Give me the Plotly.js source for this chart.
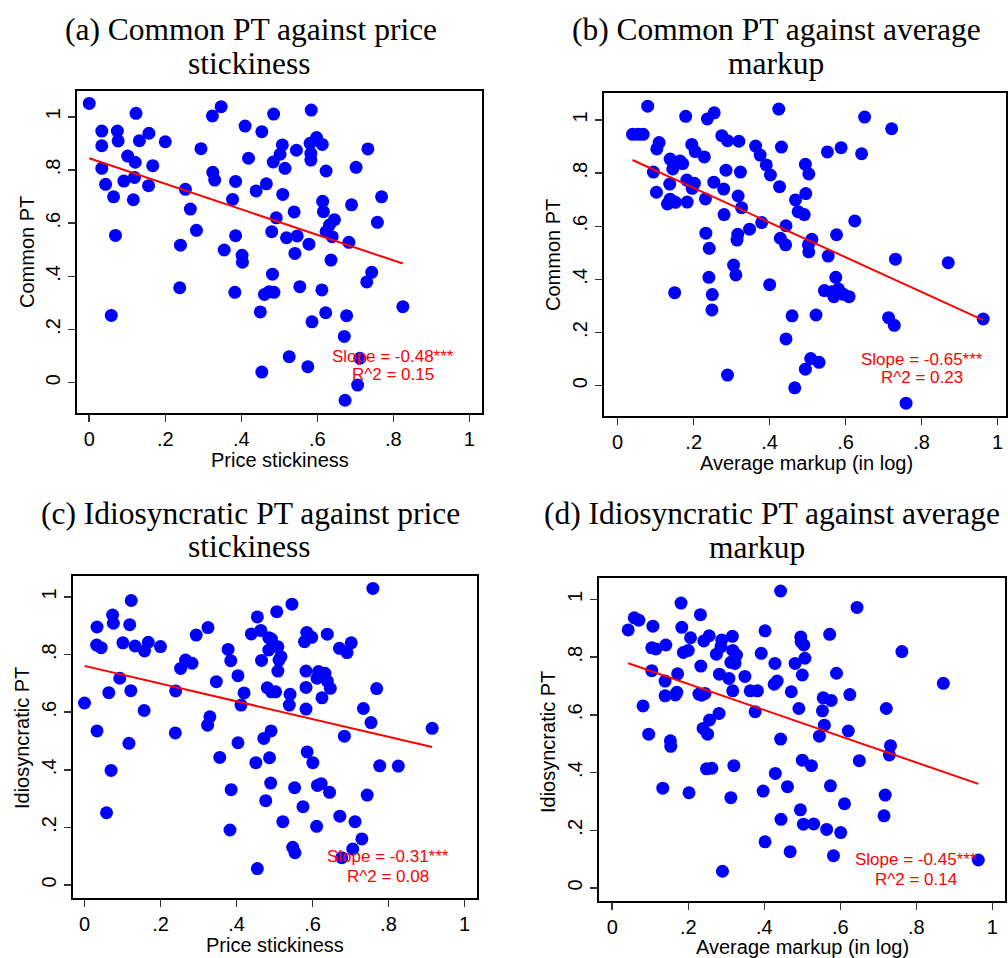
<!DOCTYPE html>
<html>
<head>
<meta charset="utf-8">
<script src="https://cdn.plot.ly/plotly-3.0.1.min.js"></script>
<style>html,body{margin:0;padding:0;background:#fff;}#chart{width:1008px;height:958px;}</style>
</head>
<body>
<div id="chart"></div>
<script>
// ---------- Data ----------
const tickVals = [0, 0.2, 0.4, 0.6, 0.8, 1];
const tickText = ["0", ".2", ".4", ".6", ".8", "1"];

// (a) Common PT vs price stickiness
const aX = [0.00,0.123,0.033,0.074,0.157,0.033,0.076,0.132,0.20,0.101,0.121,0.167,0.033,0.043,0.091,0.119,0.156,0.064,0.116,0.294,0.324,0.347,0.41,0.454,0.485,0.419,0.484,0.325,0.33,0.385,0.466,0.439,0.253,0.377,0.266,0.492,0.48,0.069,0.282,0.385,0.240,0.355,0.402,0.403,0.482,0.238,0.383,0.461,0.473,0.486,0.058,0.45,0.454,
  0.584,0.508,0.545,0.581,0.598,0.613,0.583,0.583,0.502,0.515,0.623,0.702,0.733,0.509,0.769,0.614,0.69,0.616,0.539,0.645,0.632,0.758,0.623,0.639,0.519,0.547,0.578,0.683,0.541,0.636,0.743,0.73,0.554,0.612,0.825,0.622,0.586,0.677,0.671,0.526,0.575,0.712,0.706,0.673];
const aY = [1.05,1.013,0.946,0.946,0.938,0.891,0.909,0.910,0.906,0.852,0.829,0.816,0.806,0.746,0.758,0.772,0.741,0.699,0.688,0.880,1.003,1.038,0.965,0.944,1.010,0.844,0.830,0.791,0.762,0.757,0.748,0.721,0.727,0.689,0.653,0.620,0.568,0.554,0.573,0.553,0.517,0.499,0.479,0.453,0.408,0.357,0.340,0.332,0.342,0.340,0.253,0.266,0.040,
  1.025,0.894,0.874,0.9,0.922,0.896,0.862,0.837,0.859,0.806,0.796,0.810,0.879,0.708,0.699,0.682,0.669,0.643,0.642,0.613,0.593,0.603,0.568,0.549,0.545,0.552,0.521,0.528,0.486,0.461,0.415,0.379,0.361,0.349,0.286,0.263,0.229,0.252,0.174,0.098,0.06,0.092,-0.009,-0.066];

// (b) Common PT vs average markup
const bX = [0.079,0.039,0.054,0.067,0.109,0.103,0.179,0.236,0.254,0.195,0.204,0.228,0.138,0.164,0.171,0.145,0.094,0.274,0.289,0.319,0.363,0.375,0.391,0.402,0.424,0.431,0.285,0.323,0.137,0.182,0.202,0.196,0.253,0.279,0.102,0.231,0.317,0.426,0.138,0.152,0.131,0.183,0.326,0.28,0.379,0.443,0.468,0.475,0.347,0.232,0.316,0.314,0.241,0.428,0.442,0.305,0.311,0.240,0.4,0.15,0.249,0.248,0.459,0.443,0.289,0.466,
  0.65,0.721,0.552,0.588,0.642,0.494,0.503,0.495,0.491,0.624,0.576,0.511,0.502,0.503,0.554,0.731,0.87,0.574,0.544,0.563,0.581,0.569,0.594,0.609,0.522,0.713,0.728,0.962,0.508,0.53,0.494,0.759];
const bY = [1.052,0.946,0.946,0.946,0.915,0.891,1.014,1.004,1.027,0.908,0.881,0.861,0.853,0.846,0.836,0.816,0.804,0.941,0.922,0.92,0.902,0.868,0.831,0.793,1.041,0.898,0.811,0.804,0.759,0.774,0.762,0.743,0.766,0.740,0.728,0.703,0.714,0.749,0.702,0.690,0.684,0.691,0.670,0.644,0.614,0.602,0.699,0.655,0.589,0.574,0.570,0.548,0.517,0.555,0.53,0.454,0.417,0.408,0.38,0.35,0.343,0.285,0.263,0.176,0.04,-0.008,
  1.011,0.967,0.88,0.896,0.873,0.833,0.797,0.723,0.644,0.620,0.568,0.551,0.530,0.504,0.488,0.476,0.463,0.408,0.358,0.354,0.364,0.335,0.344,0.335,0.266,0.256,0.227,0.251,0.102,0.088,0.062,-0.066];

// (c) Idiosyncratic PT vs price stickiness
const cX = [0.123,0.074,0.076,0.033,0.119,0.032,0.044,0.101,0.133,0.158,0.168,0.2,0.294,0.325,0.253,0.266,0.283,0.093,0.064,0.122,0.24,0.0,0.157,0.347,0.378,0.385,0.404,0.420,0.412,0.33,0.324,0.033,0.239,0.117,0.404,0.356,0.07,0.058,0.386,0.383,0.455,0.455,0.506,0.439,0.464,0.485,0.492,0.485,0.466,0.509,0.512,0.509,0.481,0.503,0.492,0.491,0.472,0.487,0.451,0.49,0.477,0.522,
  0.759,0.546,0.585,0.598,0.579,0.639,0.671,0.691,0.702,0.517,0.583,0.583,0.616,0.633,0.612,0.639,0.647,0.625,0.541,0.539,0.583,0.769,0.734,0.754,0.915,0.684,0.586,0.601,0.777,0.826,0.553,0.613,0.623,0.645,0.744,0.575,0.611,0.672,0.712,0.73,0.548,0.554,0.706,0.677];
const cY = [0.988,0.9375,0.909,0.896,0.904,0.833,0.824,0.841,0.830,0.8125,0.843,0.828,0.868,0.894,0.752,0.781,0.770,0.718,0.668,0.675,0.674,0.632,0.606,0.706,0.818,0.779,0.727,0.667,0.625,0.584,0.555,0.535,0.528,0.492,0.494,0.443,0.398,0.251,0.331,0.191,0.057,0.931,0.949,0.872,0.884,0.859,0.854,0.816,0.780,0.827,0.781,0.743,0.685,0.671,0.671,0.535,0.509,0.442,0.425,0.354,0.293,0.22,
  1.03,0.975,0.877,0.860,0.845,0.871,0.822,0.807,0.841,0.793,0.743,0.686,0.741,0.735,0.718,0.708,0.683,0.650,0.662,0.625,0.611,0.682,0.613,0.564,0.544,0.517,0.462,0.425,0.414,0.413,0.338,0.346,0.352,0.322,0.3125,0.272,0.204,0.239,0.22,0.16,0.131,0.112,0.125,0.095];

// (d) Idiosyncratic PT vs average markup
const dX = [0.443,0.181,0.058,0.07,0.042,0.107,0.232,0.183,0.206,0.104,0.115,0.141,0.187,0.2,0.241,0.255,0.288,0.286,0.274,0.316,0.317,0.327,0.312,0.323,0.402,0.392,0.428,0.481,0.496,0.497,0.507,0.5,0.104,0.172,0.233,0.282,0.307,0.349,0.139,0.139,0.166,0.170,0.228,0.244,0.235,0.317,0.363,0.382,0.426,0.434,0.471,0.081,0.281,0.376,0.491,0.256,0.239,0.251,0.096,0.153,0.154,0.443,0.5,0.248,0.262,0.320,0.429,0.461,0.397,0.133,0.202,0.312,0.495,0.503,0.444,0.402,0.468,0.29,
  0.644,0.572,0.504,0.762,0.59,0.871,0.625,0.555,0.576,0.553,0.721,0.558,0.545,0.621,0.732,0.729,0.524,0.65,0.574,0.718,0.611,0.715,0.53,0.564,0.601,0.582,0.963];
const dY = [1.029,0.987,0.936,0.928,0.894,0.907,0.947,0.903,0.867,0.832,0.828,0.842,0.816,0.823,0.856,0.874,0.859,0.836,0.81,0.872,0.823,0.807,0.782,0.778,0.891,0.813,0.778,0.778,0.87,0.853,0.796,0.738,0.753,0.742,0.769,0.741,0.726,0.733,0.717,0.666,0.669,0.678,0.672,0.674,0.668,0.683,0.683,0.683,0.706,0.717,0.68,0.631,0.605,0.611,0.622,0.582,0.553,0.533,0.533,0.51,0.491,0.516,0.443,0.413,0.415,0.424,0.397,0.351,0.336,0.346,0.33,0.313,0.271,0.221,0.238,0.16,0.126,0.058,
  0.972,0.879,0.842,0.819,0.744,0.709,0.67,0.659,0.650,0.614,0.622,0.564,0.526,0.544,0.493,0.461,0.424,0.441,0.354,0.322,0.292,0.25,0.222,0.203,0.192,0.112,0.097];

// Fitted lines: intercept and slope
const fitIntercept = {a: 0.844, b: 0.875, c: 0.761, d: 0.798};
const fitSlope = {a: -0.48, b: -0.653, c: -0.308, d: -0.454};
const slopeText = {a: "Slope = -0.48***", b: "Slope = -0.65***", c: "Slope = -0.31***", d: "Slope = -0.45***"};
const r2Text = {a: "R^2 = 0.15", b: "R^2 = 0.23", c: "R^2 = 0.08", d: "R^2 = 0.14"};

const panelTitles = {
  a: ["(a) Common PT against price", "stickiness"],
  b: ["(b) Common PT against average", "markup"],
  c: ["(c) Idiosyncratic PT against price", "stickiness"],
  d: ["(d) Idiosyncratic PT against average", "markup"]
};
const xTitles = {a: "Price stickiness", b: "Average markup (in log)", c: "Price stickiness", d: "Average markup (in log)"};
const yTitles = {a: "Common PT", b: "Common PT", c: "Idiosyncratic PT", d: "Idiosyncratic PT"};

// ---------- Layout geometry (pixels) ----------
const W = 1008, H = 958;
const px = v => v / W;
const py = v => 1 - v / H;

const geo = {
  a: {box: [76.7, 482.3, 90.7, 413.3], xr: [-0.033, 1.034], yr: [-0.115, 1.098],
      t1: [251, 30], t2: [249, 63], xt: [280, 460], yt: [27, 252]},
  b: {box: [604, 1006, 93.3, 415.7], xr: [-0.036, 1.022], yr: [-0.113, 1.1005],
      t1: [776, 30], t2: [776, 63], xt: [806, 463], yt: [553, 255]},
  c: {box: [72.7, 477, 576, 897.7], xr: [-0.031, 1.033], yr: [-0.044, 1.073],
      t1: [250, 513], t2: [249, 546], xt: [275, 945], yt: [22, 738]},
  d: {box: [599.3, 1005.3, 578.3, 901], xr: [-0.034, 1.034], yr: [-0.045, 1.073],
      t1: [772, 513], t2: [757, 547], xt: [802, 947], yt: [548, 742]}
};

const data = {a: [aX, aY], b: [bX, bY], c: [cX, cY], d: [dX, dY]};
const keys = ["a", "b", "c", "d"];

const sans = "Liberation Sans, Arial, sans-serif";
const serif = "Liberation Serif, Times New Roman, serif";

const traces = [];
const layout = {
  width: W, height: H,
  margin: {l: 0, r: 0, t: 0, b: 0},
  paper_bgcolor: "#fff", plot_bgcolor: "#fff",
  showlegend: false,
  annotations: []
};

keys.forEach((k, i) => {
  const n = i === 0 ? "" : String(i + 1);
  const g = geo[k];
  const [xs, ys] = data[k];
  const xa = "x" + n, ya = "y" + n;

  traces.push({
    type: "scatter", mode: "markers", x: xs, y: ys, xaxis: xa, yaxis: ya,
    marker: {color: "#0000ff", size: 13, line: {width: 0}},
    hoverinfo: "skip"
  });
  const xmin = Math.min(...xs), xmax = Math.max(...xs);
  traces.push({
    type: "scatter", mode: "lines",
    x: [xmin, xmax],
    y: [fitIntercept[k] + fitSlope[k] * xmin, fitIntercept[k] + fitSlope[k] * xmax],
    xaxis: xa, yaxis: ya,
    line: {color: "#ff0000", width: 2},
    hoverinfo: "skip"
  });

  const axBase = {
    showgrid: false, zeroline: false, showline: true, mirror: true,
    linecolor: "#000", linewidth: 2,
    ticks: "outside", ticklen: 7, tickwidth: 1.5, tickcolor: "#333",
    tickvals: tickVals, ticktext: tickText,
    tickfont: {family: sans, size: 20, color: "#000"},
    fixedrange: true
  };
  layout["xaxis" + n] = Object.assign({}, axBase, {
    domain: [px(g.box[0]), px(g.box[1])], range: g.xr, anchor: ya
  });
  layout["yaxis" + n] = Object.assign({}, axBase, {
    domain: [py(g.box[3]), py(g.box[2])], range: g.yr, anchor: xa, tickangle: -90
  });

  // Titles
  layout.annotations.push(
    {xref: "paper", yref: "paper", x: px(g.t1[0]), y: py(g.t1[1]), text: panelTitles[k][0],
     showarrow: false, xanchor: "center", yanchor: "middle", font: {family: serif, size: 31.5, color: "#000"}},
    {xref: "paper", yref: "paper", x: px(g.t2[0]), y: py(g.t2[1]), text: panelTitles[k][1],
     showarrow: false, xanchor: "center", yanchor: "middle", font: {family: serif, size: 31.5, color: "#000"}},
    {xref: "paper", yref: "paper", x: px(g.xt[0]), y: py(g.xt[1]), text: xTitles[k],
     showarrow: false, xanchor: "center", yanchor: "middle", font: {family: sans, size: 20, color: "#000"}},
    {xref: "paper", yref: "paper", x: px(g.yt[0]), y: py(g.yt[1]), text: yTitles[k], textangle: -90,
     showarrow: false, xanchor: "center", yanchor: "middle", font: {family: sans, size: 20, color: "#000"}},
    {xref: xa, yref: ya, x: 0.8, y: 0.1, text: slopeText[k],
     showarrow: false, xanchor: "center", yanchor: "middle", font: {family: sans, size: 17, color: "#ff0000"}},
    {xref: xa, yref: ya, x: 0.8, y: 0.03, text: r2Text[k],
     showarrow: false, xanchor: "center", yanchor: "middle", font: {family: sans, size: 17, color: "#ff0000"}}
  );
});

Plotly.newPlot("chart", traces, layout, {displayModeBar: false, staticPlot: true});
</script>
</body>
</html>
